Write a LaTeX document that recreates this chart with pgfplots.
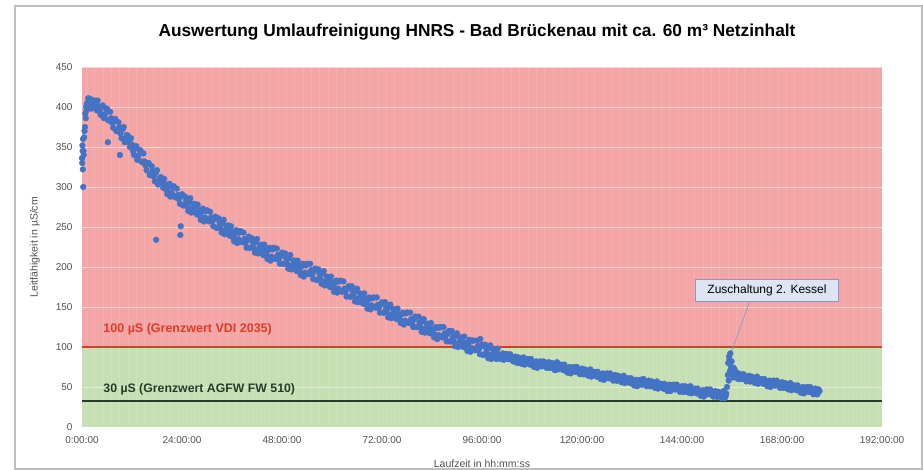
\documentclass[border=0pt]{standalone}
\usepackage{pgfplots}
\pgfplotsset{compat=1.18}
\usepackage{fontspec}
\setmainfont{Liberation Sans}
\definecolor{redzone}{RGB}{243,166,165}
\definecolor{greenzone}{RGB}{198,224,180}
\definecolor{redline}{RGB}{226,58,38}
\definecolor{darkline}{RGB}{38,60,40}
\definecolor{ptblue}{RGB}{68,114,196}
\definecolor{labelgray}{RGB}{80,80,80}
\definecolor{boxfill}{RGB}{223,228,243}
\definecolor{boxdraw}{RGB}{140,150,195}
\definecolor{framegray}{RGB}{190,190,190}
\begin{document}
\begin{tikzpicture}[x=1pt,y=1pt]
\path[use as bounding box] (0,0) rectangle (923,-470);
\draw[framegray,line width=1.2pt] (15,-6) rectangle (922,-469);
\node[font=\fontsize{17.3}{20}\selectfont\bfseries] at (477,-32) {Auswertung Umlaufreinigung HNRS - Bad Brückenau mit ca. 60 m³ Netzinhalt};
\begin{axis}[
  at={(82pt,-427pt)}, anchor=south west,
  scale only axis, width=800pt, height=360pt,
  xmin=0, xmax=192, ymin=0, ymax=450,
  xtick={0,24,...,192},
  xticklabels={0:00:00,24:00:00,48:00:00,72:00:00,96:00:00,120:00:00,144:00:00,168:00:00,192:00:00},
  ytick={0,50,...,450},
  axis line style={draw=none}, major tick style={draw=none}, minor tick style={draw=none},
  ticklabel style={font=\fontsize{10}{12}\selectfont, text=labelgray},
  /pgf/number format/assume math mode=true,
  xticklabel style={yshift=-6pt},
  yticklabel style={xshift=-6pt},
  xlabel={Laufzeit in hh:mm:ss},
  ylabel={Leitfähigkeit in µS/cm},
  label style={font=\fontsize{10.5}{12}\selectfont, text=labelgray},
  xlabel style={yshift=-9pt},
  ylabel style={yshift=9pt},
  clip=false,
]
\fill[greenzone] (axis cs:0,0) rectangle (axis cs:192,100);
\fill[redzone] (axis cs:0,100) rectangle (axis cs:192,450);
\pgfplotsinvokeforeach{1,3,...,191}{\draw[white,opacity=0.12,line width=0.5pt] (axis cs:#1,0) -- (axis cs:#1,450);}
\pgfplotsinvokeforeach{50,150,200,250,300,350,400,450}{\draw[white,opacity=0.5,line width=1pt] (axis cs:0,#1) -- (axis cs:192,#1);}
\draw[redline,line width=2pt] (axis cs:0,100) -- (axis cs:192,100);
\draw[darkline,line width=2.2pt] (axis cs:0,33) -- (axis cs:192,33);
\node[anchor=west,text=redline,font=\fontsize{12.5}{14}\selectfont\bfseries] at (axis cs:4.3,122) {100 µS (Grenzwert VDI 2035)};
\node[anchor=west,text=darkline,font=\fontsize{12.3}{14}\selectfont\bfseries] at (axis cs:4.3,47) {30 µS (Grenzwert AGFW FW 510)};
\addplot[only marks, mark=*, mark size=2.9pt, color=ptblue] table {
x y
0 336
0.1 352
0.2 322
0.3 300
0.35 345
0.5 362
0.7 375
0.9 386
1.1 396
1.3 405
1.5 411
1.7 402
1.9 408
2 410
2.5 403
3 408
3.5 396
4 401
4.5 390
5 402
5.5 391
6 398
6.2 356
6.5 383
7 386
7.5 374
8 385
8.5 370
9 375
9.1 340
9.5 361
10 375
10.5 361
11 364
11.5 350
12 353
12.5 340
13 351
13.5 339
14 346
14.5 331
15 332
15.5 321
16 330
16.5 315
17 320
17.5 307
17.8 234
18 321
18.5 308
19 312
19.5 299
20 303
20.5 291
21 304
21.5 293
22 301
22.5 287
23 290
23.5 279
23.6 240
23.7 251
24 291
24.5 277
25 283
25.5 270
26 286
26.5 273
27 279
27.5 266
28 271
28.5 259
29 273
29.5 262
30 271
30.5 257
31 262
31.5 251
32 263
32.5 249
33 256
33.5 243
34 259
34.5 246
35 252
35.5 239
36 244
36.5 232
37 246
37.5 235
38 245
38.5 231
39 235
39.5 224
40 238
40.5 224
41 231
41.5 218
42 235
42.5 222
43 228
43.5 215
44 222
44.5 210
45 224
45.5 213
46 224
46.5 210
47 215
47.5 204
48 218
48.5 204
49 211
49.5 198
50 215
50.5 202
51 208
51.5 195
52 202
52.5 190
53 204
53.5 193
54 204
54.5 191
55 196
55.5 185
56 198
56.5 184
57 191
57.5 179
58 195
58.5 182
59 187
59.5 175
60 181
60.5 169
61 183
61.5 173
62 183
62.5 169
63 173
63.5 163
64 176
64.5 163
65 170
65.5 157
66 173
66.5 161
67 166
67.5 154
68 160
68.5 148
69 162
69.5 152
70 162
70.5 149
71 153
71.5 143
72 156
72.5 143
73 149
73.5 137
74 153
74.5 141
75 147
75.5 135
76 141
76.5 130
77 143
77.5 133
78 143
78.5 130
79 135
79.5 125
80 138
80.5 125
81 131
81.5 119
82 135
82.5 123
83 129
83.5 117
84 123
84.5 112
85 125
85.5 115
86 125
86.5 112
87 117
87.5 107
88 120
88.5 107
89 113
89.5 101
90 117
90.5 105
91 112
91.5 100
92 105
92.5 95
93 109
93.5 99
94 108
94.5 96
95 101
95.5 91
95.6 110
96 103
96.5 91
97 98
97.5 86
98 102
98.5 91
99 97
99.5 85
100 91
100.5 85
101 92
101.5 86
102 91
102.5 85
103 87
103.5 82
104 88
104.5 80
105 85
105.5 79
106 87
106.5 80
107 85
107.5 78
108 81
108.5 75
109 82
109.5 77
110 82
110.5 76
111 79
111.5 74
112 81
112.5 74
113 78
113.5 71
114 81
114.5 75
115 78
115.5 71
116 74
116.5 68
117 75
117.5 70
118 75
118.5 69
119 71
119.5 66
120 73
120.5 66
121 70
121.5 64
122 72
122.5 66
123 69
123.5 63
124 66
124.5 60
125 67
125.5 62
126 67
126.5 61
127 63
127.5 58
128 65
128.5 58
129 62
129.5 56
130 64
130.5 58
131 61
131.5 55
132 58
132.5 52
133 59
133.5 54
134 59
134.5 53
135 56
135.5 51
136 58
136.5 51
137 55
137.5 49
138 57
138.5 51
139 54
139.5 48
140 51
140.5 45
141 53
141.5 48
142 53
142.5 47
143 49
143.5 44
144 51
144.5 44
145 49
145.5 43
146 51
146.5 45
147 48
147.5 42
148 45
148.5 39
149 46
149.5 41
150 47
150.5 41
151 43
151.5 38
152 45
152.5 38
153 42
153.5 36
154 45
154.5 39
154.8 50
155 65
155.1 80
155.3 88
155.6 92
155.8 75
156 70
156.3 62
156.6 72
157 64
157.5 60
158 66
158.5 60
159 62
159.5 57
160 64
160.5 57
161 61
161.5 55
162 63
162.5 57
163 60
163.5 54
164 57
164.5 51
165 58
165.5 53
166 58
166.5 52
167 54
167.5 49
168 56
168.5 49
169 53
169.5 47
170 55
170.5 49
171 52
171.5 46
172 49
172.5 43
173 50
173.5 45
174 50
174.5 44
175 46
175.5 41
176 48
176.5 41
177 45
};
\addplot[only marks, mark=*, mark size=2.9pt, color=ptblue] table {
x y
0.05 330
0.15 345
0.25 360
0.4 340
0.6 370
0.8 392
1.0 400
1.2 404
1.4 398
1.6 408
1.8 402
2.25 398
2.75 408
3.25 401
3.75 408
4.25 394
4.75 400
5.25 386
5.75 398
6.25 384
6.75 394
7.25 380
7.75 382
8.25 370
8.75 381
9.25 367
9.75 372
10.25 356
10.75 365
11.25 356
11.75 361
12.25 345
12.75 349
13.25 334
13.75 346
14.25 332
14.75 342
15.25 327
15.75 329
16.25 315
16.75 326
17.25 313
17.75 318
18.25 303
18.75 312
19.25 305
19.75 310
20.25 296
20.75 300
21.25 288
21.75 300
22.25 288
22.75 298
23.25 285
23.75 288
24.25 277
24.75 288
25.25 276
25.75 282
26.25 268
26.75 278
27.25 272
27.75 278
28.25 264
28.75 269
29.25 257
29.75 270
30.25 258
30.75 269
31.25 257
31.75 260
32.25 249
32.75 261
33.25 249
33.75 255
34.25 241
34.75 251
35.25 245
35.75 251
36.25 237
36.75 242
37.25 230
37.75 243
38.25 232
38.75 243
39.25 230
39.75 234
40.25 224
40.75 236
41.25 224
41.75 231
42.25 217
42.75 227
43.25 221
43.75 228
44.25 215
44.75 221
45.25 208
45.75 222
46.25 211
46.75 223
47.25 210
47.75 214
48.25 204
48.75 217
49.25 204
49.75 211
50.25 197
50.75 208
51.25 201
51.75 208
52.25 195
52.75 201
53.25 188
53.75 202
54.25 192
54.75 204
55.25 191
55.75 195
56.25 184
56.75 197
57.25 185
57.75 192
58.25 177
58.75 188
59.25 181
59.75 188
60.25 174
60.75 180
61.25 168
61.75 182
62.25 170
62.75 182
63.25 169
63.75 173
64.25 163
64.75 176
65.25 163
65.75 170
66.25 156
66.75 167
67.25 160
67.75 167
68.25 153
68.75 159
69.25 147
69.75 161
70.25 150
70.75 162
71.25 149
71.75 153
72.25 143
72.75 156
73.25 143
73.75 150
74.25 136
74.75 147
75.25 141
75.75 148
76.25 135
76.75 141
77.25 128
77.75 142
78.25 131
78.75 143
79.25 131
79.75 135
80.25 125
80.75 138
81.25 125
81.75 132
82.25 118
82.75 129
83.25 123
83.75 130
84.25 117
84.75 123
85.25 110
85.75 124
86.25 113
86.75 125
87.25 113
87.75 117
88.25 107
88.75 120
89.25 107
89.75 114
90.25 100
90.75 111
91.25 106
91.75 113
92.25 99
92.75 105
93.25 94
93.75 108
94.25 96
94.75 108
95.25 97
95.75 101
96.25 90
96.75 103
97.25 92
97.75 99
98.25 85
98.75 96
99.25 91
99.75 98
100.25 87
100.75 90
101.25 84
101.75 91
102.25 85
102.75 91
103.25 85
103.75 87
104.25 81
104.75 87
105.25 81
105.75 85
106.25 78
106.75 83
107.25 81
107.75 85
108.25 77
108.75 80
109.25 74
109.75 81
110.25 76
110.75 82
111.25 77
111.75 79
112.25 74
112.75 80
113.25 74
113.75 78
114.25 72
114.75 77
115.25 74
115.75 78
116.25 70
116.75 73
117.25 67
117.75 74
118.25 69
118.75 75
119.25 69
119.75 71
120.25 66
120.75 72
121.25 66
121.75 70
122.25 63
122.75 68
123.25 65
123.75 69
124.25 62
124.75 65
125.25 59
125.75 66
126.25 61
126.75 67
127.25 61
127.75 63
128.25 58
128.75 64
129.25 58
129.75 62
130.25 55
130.75 60
131.25 57
131.75 61
132.25 54
132.75 57
133.25 51
133.75 58
134.25 53
134.75 60
135.25 54
135.75 56
136.25 51
136.75 57
137.25 51
137.75 55
138.25 48
138.75 53
139.25 50
139.75 54
140.25 47
140.75 51
141.25 45
141.75 52
142.25 47
142.75 53
143.25 47
143.75 49
144.25 44
144.75 51
145.25 45
145.75 49
146.25 42
146.75 47
147.25 44
147.75 48
148.25 41
148.75 44
149.25 38
149.75 46
150.25 41
150.75 47
151.25 41
151.75 43
152.25 38
152.75 44
153.25 38
153.75 43
154.25 36
154.6 42
155.2 58
155.4 84
155.5 70
155.9 82
156.1 66
156.4 74
156.8 62
157.2 68
157.7 64
158.25 60
158.75 66
159.25 60
159.75 62
160.25 57
160.75 63
161.25 57
161.75 61
162.25 54
162.75 59
163.25 56
163.75 60
164.25 53
164.75 56
165.25 50
165.75 57
166.25 52
166.75 58
167.25 52
167.75 54
168.25 49
168.75 55
169.25 49
169.75 53
170.25 46
170.75 51
171.25 48
171.75 52
172.25 45
172.75 48
173.25 42
173.75 49
174.25 44
174.75 50
175.25 44
175.75 46
176.25 41
176.75 47
};
\draw[boxdraw,line width=0.6pt] (axis cs:155.8,93) -- (axis cs:160.3,158);
\node[draw=boxdraw,fill=boxfill,line width=0.8pt,inner xsep=12pt,minimum height=22pt,font=\fontsize{12}{14}\selectfont] at (axis cs:164.4,171) {Zuschaltung 2. Kessel};
\end{axis}
\end{tikzpicture}
\end{document}
